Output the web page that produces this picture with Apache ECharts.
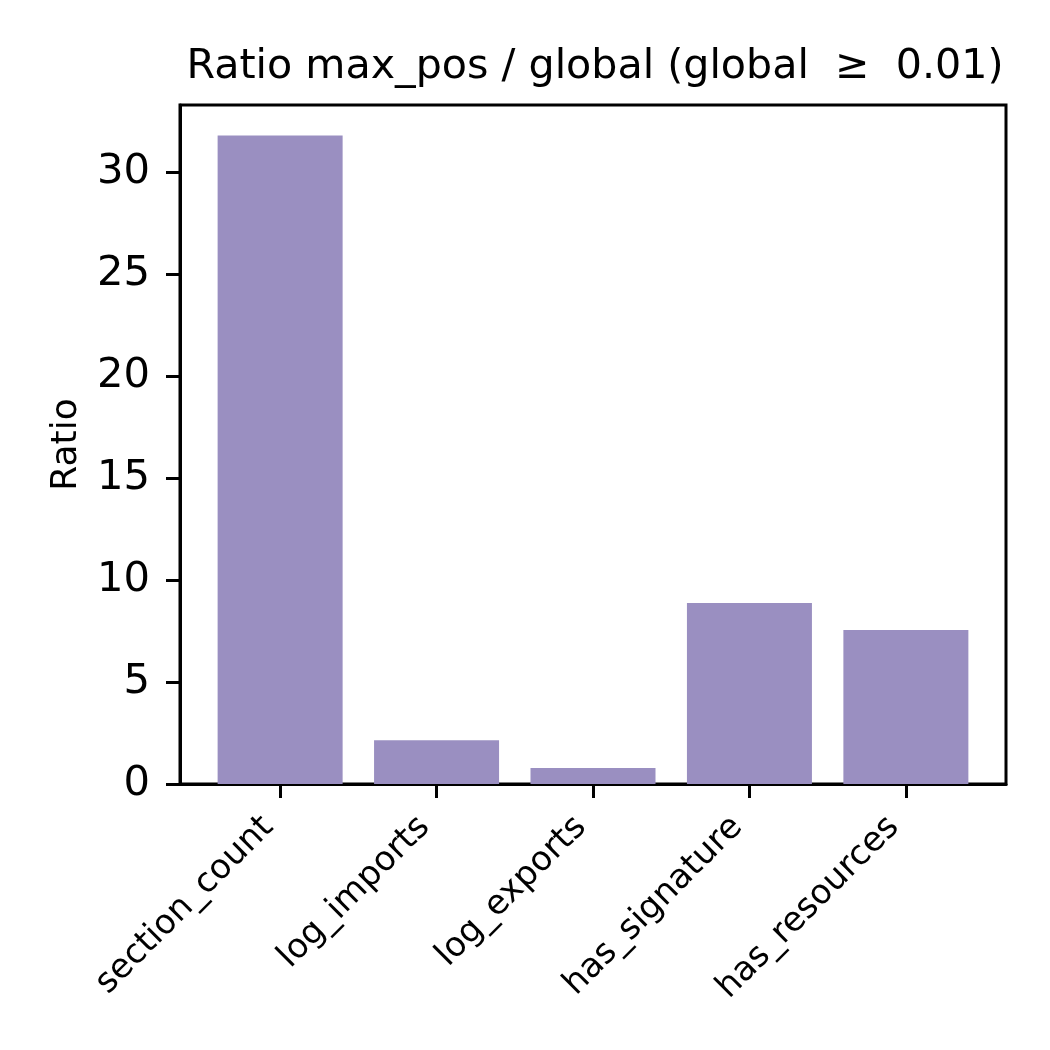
<!DOCTYPE html>
<html>
<head>
<meta charset="utf-8">
<script src="https://cdn.jsdelivr.net/npm/echarts@6/dist/echarts.min.js"></script>
<style>
html,body{margin:0;padding:0;background:#fff;}
#chart{width:1050px;height:1050px;}
</style>
</head>
<body>
<div id="chart"></div>
<script>
const categories = ['section_count', 'log_imports', 'log_exports', 'has_signature', 'has_resources'];
const ratios = [31.8, 2.15, 0.78, 8.88, 7.55];
const yTicks = [0, 5, 10, 15, 20, 25, 30];
const titleText = 'Ratio max_pos / global (global  \u2265  0.01)';
const yName = 'Ratio';

const positions = categories.map((_, i) => i);
const FONT = 'DejaVu Sans';

const chart = echarts.init(document.getElementById('chart'), null, {renderer: 'canvas'});
chart.setOption({
  backgroundColor: '#ffffff',
  animation: false,
  title: {
    text: titleText,
    left: 590,
    top: 42,
    textAlign: 'center',
    textStyle: {fontFamily: FONT, fontSize: 41.2, fontWeight: 'normal', color: '#000'}
  },
  grid: {
    left: 180, right: 44, top: 105, bottom: 266,
    show: true, borderColor: '#000', borderWidth: 3, backgroundColor: 'transparent'
  },
  xAxis: {
    type: 'value',
    min: -0.64,
    max: 4.64,
    splitLine: {show: false},
    axisLine: {show: true, onZero: false, lineStyle: {color: '#000', width: 3}},
    axisTick: {show: true, length: 14, lineStyle: {color: '#000', width: 3}, customValues: positions},
    axisLabel: {
      customValues: positions,
      rotate: 45,
      margin: 50,
      verticalAlign: 'bottom',
      align: 'right',
      fontFamily: FONT,
      fontSize: 34,
      color: '#000',
      formatter: v => categories[Math.round(v)]
    }
  },
  yAxis: {
    type: 'value',
    min: 0,
    max: 33.3,
    name: yName,
    nameLocation: 'middle',
    nameGap: 95,
    nameTextStyle: {fontFamily: FONT, fontSize: 36, color: '#000'},
    splitLine: {show: false},
    axisLine: {show: true, onZero: false, lineStyle: {color: '#000', width: 3}},
    axisTick: {show: true, length: 14, lineStyle: {color: '#000', width: 3}, customValues: yTicks},
    axisLabel: {customValues: yTicks, margin: 30, fontFamily: FONT, fontSize: 41.7, color: '#000'}
  },
  series: [{
    type: 'bar',
    barWidth: 125,
    itemStyle: {color: '#9a8fc1'},
    data: positions.map((p, i) => [p, ratios[i]])
  }]
});
</script>
</body>
</html>
